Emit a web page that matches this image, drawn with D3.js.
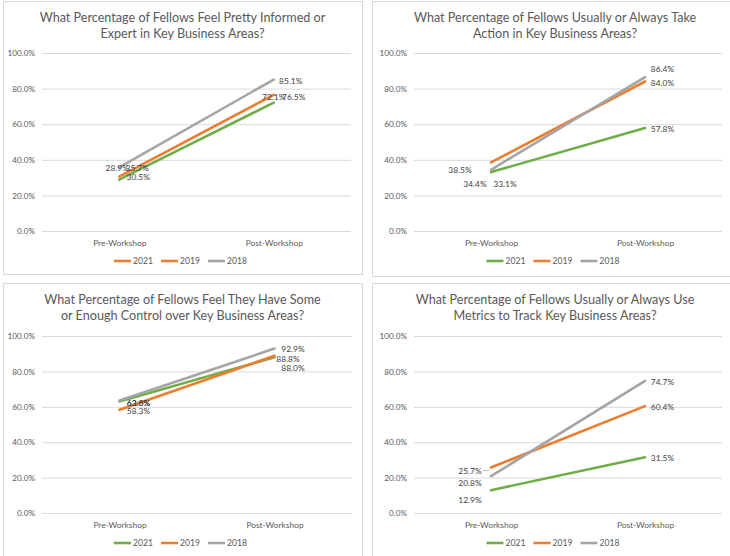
<!DOCTYPE html>
<html>
<head>
<meta charset="utf-8">
<script src="https://cdn.jsdelivr.net/npm/d3@7"></script>
<style>
  html, body { margin: 0; padding: 0; background: #ffffff; }
  svg { display: block; }
  text { font-family: Lato, "Liberation Sans", sans-serif; }
</style>
</head>
<body>
<svg id="chart" width="730" height="556"></svg>
<script>
// ---- data ----
const categories = ["Pre-Workshop", "Post-Workshop"];
const years = ["2021", "2019", "2018"];
const yTicks = [0, 20, 40, 60, 80, 100];

const titles = [
  ["What Percentage of Fellows Feel Pretty Informed or", "Expert in Key Business Areas?"],
  ["What Percentage of Fellows Usually or Always Take", "Action in Key Business Areas?"],
  ["What Percentage of Fellows Feel They Have Some", "or Enough Control over Key Business Areas?"],
  ["What Percentage of Fellows Usually or Always Use", "Metrics to Track Key Business Areas?"]
];

// percent values, [Pre, Post] for each year
const informed2021 = [28.9, 72.1];
const informed2019 = [30.5, 76.5];
const informed2018 = [35.7, 85.1];

const action2021 = [33.1, 57.8];
const action2019 = [38.5, 84.0];
const action2018 = [34.4, 86.4];

const control2021 = [63.0, 88.0];
const control2019 = [58.3, 88.8];
const control2018 = [63.6, 92.9];

const metrics2021 = [12.9, 31.5];
const metrics2019 = [25.7, 60.4];
const metrics2018 = [20.8, 74.7];

const panelSeries = [
  [informed2021, informed2019, informed2018],
  [action2021, action2019, action2018],
  [control2021, control2019, control2018],
  [metrics2021, metrics2019, metrics2018]
];

// ---- styling & layout ----
const GREEN = "#70ad47", ORANGE = "#ed7d31", GRAY = "#a5a5a5";
const lineColors = [GREEN, ORANGE, GRAY];

const panels = [
  { box: [3, 1, 359, 273], plot: [42, 351, 53, 231], titleY: [17, 33], catY: 243, legendY: 261,
    legendColors: [ORANGE, ORANGE, GRAY],
    // label offsets [series][category] = [dx, dy] from the point (label centre)
    labelOff: [[[-2, -11.5], [0, -6]], [[19, 0.5], [20, 2]], [[18, 0.5], [17, 1.5]]] },
  { box: [372, 1, 370, 275], plot: [414, 722, 53, 231], titleY: [17, 33], catY: 243, legendY: 261,
    legendColors: lineColors,
    labelOff: [[[14, 12], [17.5, 1]], [[-31, 7.5], [17.5, 1.5]], [[-16, 14], [17.5, -8]]] },
  { box: [3, 283, 359, 290], plot: [42, 352, 336, 513], titleY: [299, 315], catY: 525, legendY: 543,
    legendColors: lineColors,
    labelOff: [[[19, 1.5], [18.5, 10.5]], [[19, 1], [13.5, 3.5]], [[19, 2.6], [18.5, 0.5]]] },
  { box: [372, 283, 370, 290], plot: [414, 722, 336, 513], titleY: [299, 315], catY: 525, legendY: 543,
    legendColors: lineColors,
    labelOff: [[[-21, 10], [17.5, 1]], [[-21, 3.5], [17.5, 1]], [[-21, 7], [17.5, 1]]],
    leader: 1 }
];

const svg = d3.select("#chart");

panels.forEach((p, pi) => {
  const g = svg.append("g");
  const [bx, by, bw, bh] = p.box;
  g.append("rect").attr("x", bx + 0.5).attr("y", by + 0.5).attr("width", bw).attr("height", bh)
    .attr("fill", "#fff").attr("stroke", "#d9d9d9").attr("stroke-width", 1);

  const [x0, x1, yTop, yBot] = p.plot;
  const x = d3.scalePoint().domain(categories).range([x0, x1]).padding(0.5);
  const y = d3.scaleLinear().domain([0, 100]).range([yBot, yTop]);
  const cx = bx + bw / 2 + (pi % 2 === 1 ? -2 : 0);

  // title
  g.selectAll("text.title").data(titles[pi]).join("text")
    .attr("class", "title")
    .attr("x", cx).attr("y", (d, i) => p.titleY[i])
    .attr("text-anchor", "middle").attr("dominant-baseline", "central")
    .attr("font-size", 12.6).attr("fill", "#595959")
    .text(d => d);

  // horizontal gridlines + y tick labels via axis
  const yAxis = d3.axisLeft(y).tickValues(yTicks).tickSize(-(x1 - x0))
    .tickFormat(d => d3.format(".1f")(d) + "%").tickPadding(7);
  const ya = g.append("g").attr("transform", `translate(${x0},0)`).call(yAxis);
  ya.select(".domain").remove();
  ya.selectAll(".tick line").attr("stroke", "#d9d9d9").attr("stroke-width", 1);
  ya.selectAll(".tick text").attr("font-size", 8.2).attr("fill", "#595959")
    .attr("font-family", "Lato, 'Liberation Sans', sans-serif");

  // category axis labels
  const xa = g.append("g").attr("transform", `translate(0,${p.catY})`)
    .call(d3.axisBottom(x).tickSize(0).tickPadding(0));
  xa.select(".domain").remove();
  xa.selectAll(".tick text").attr("font-size", 8.4).attr("fill", "#595959")
    .attr("dy", "0.35em").attr("font-family", "Lato, 'Liberation Sans', sans-serif");

  // lines, first series drawn at the back
  const line = d3.line().x((d, i) => x(categories[i])).y(d => y(d));
  const series = panelSeries[pi];
  series.forEach((vals, si) => {
    g.append("path").datum(vals).attr("d", line)
      .attr("fill", "none").attr("stroke", lineColors[si]).attr("stroke-width", 2.6)
      .attr("stroke-linecap", "round");
  });

  // data labels
  series.forEach((vals, si) => {
    vals.forEach((v, ci) => {
      const [dx, dy] = p.labelOff[si][ci];
      g.append("text")
        .attr("x", x(categories[ci]) + dx).attr("y", y(v) + dy)
        .attr("text-anchor", "middle").attr("dominant-baseline", "central")
        .attr("font-size", 8.4).attr("fill", "#404040")
        .text(d3.format(".1f")(v) + "%");
    });
  });

  // leader line for a displaced label
  if (p.leader !== undefined) {
    const v = series[p.leader][0];
    const px = x(categories[0]), py = y(v);
    const [dx, dy] = p.labelOff[p.leader][0];
    g.append("path")
      .attr("d", `M${px + dx + 13},${py + dy} L${px - 2},${py + dy - 1}`)
      .attr("stroke", "#a6a6a6").attr("stroke-width", 0.8).attr("fill", "none");
  }

  // legend
  const itemW = 47;
  const lx0 = cx - itemW * 1.5 + 2;
  years.forEach((yr, i) => {
    const lx = lx0 + i * itemW;
    g.append("line").attr("x1", lx).attr("x2", lx + 17)
      .attr("y1", p.legendY).attr("y2", p.legendY)
      .attr("stroke", p.legendColors[i]).attr("stroke-width", 2.6);
    g.append("text").attr("x", lx + 19).attr("y", p.legendY)
      .attr("dominant-baseline", "central").attr("font-size", 8.6).attr("fill", "#595959")
      .text(yr);
  });
});
</script>
</body>
</html>
